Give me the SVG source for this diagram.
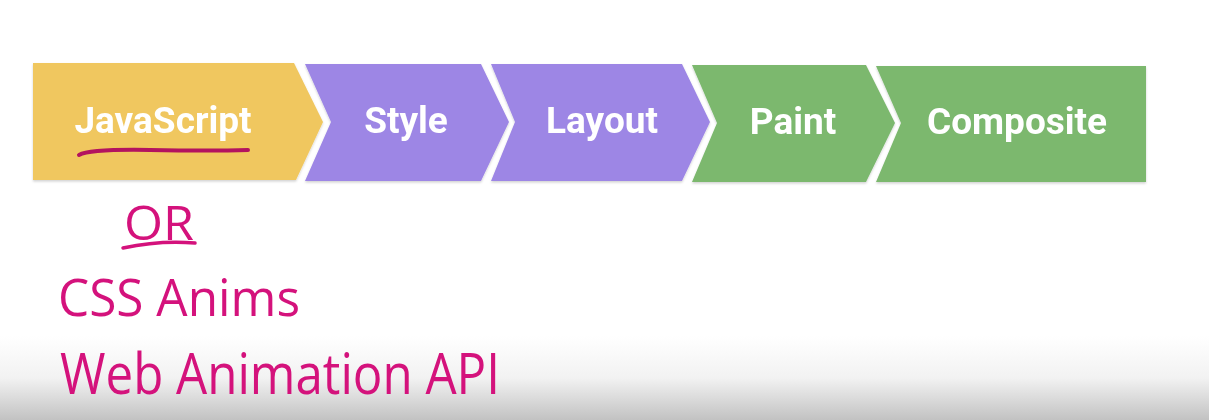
<svg xmlns="http://www.w3.org/2000/svg" width="1209" height="420" viewBox="0 0 1209 420">
<defs>
<linearGradient id="bg" x1="0" y1="0" x2="0" y2="1">
<stop offset="0" stop-color="#ffffff"/>
<stop offset="0.8" stop-color="#ffffff"/>
<stop offset="0.9" stop-color="#f2f2f2"/>
<stop offset="1" stop-color="#c2c2c2"/>
</linearGradient>
<filter id="sh" x="-5%" y="-5%" width="110%" height="120%">
<feDropShadow dx="0" dy="1.5" stdDeviation="1.2" flood-color="#000" flood-opacity="0.18"/>
</filter>
</defs>
<style>
.lbl{font-family:Roboto,"Liberation Sans",sans-serif;font-weight:bold;font-size:37px;fill:#ffffff;text-anchor:middle}
.hand{font-family:"Open Sans","DejaVu Sans",sans-serif;fill:#d4127c}
.js{fill:#f0c75e}
.pu{fill:#9d86e5}
.gr{fill:#7bb86e}
.ink{fill:none;stroke:#d4127c;stroke-width:3.5;stroke-linecap:round}
</style>
<rect width="1209" height="420" fill="url(#bg)"/>
<g id="javascript" filter="url(#sh)">
<path class="js" d="M33,63 L294,63 L323,122 L296,180 L33,180 Z"/>
<text class="lbl" x="163" y="133">JavaScript</text>
</g>
<g id="style" filter="url(#sh)">
<path class="pu" d="M305,64 L481,64 L509,122 L481,181 L305,181 L331,122 Z"/>
<text class="lbl" x="406" y="133">Style</text>
</g>
<g id="layout" filter="url(#sh)">
<path class="pu" d="M491,64 L682,64 L710,122 L682,181 L491,181 L515,122 Z"/>
<text class="lbl" x="602" y="133">Layout</text>
</g>
<g id="paint" filter="url(#sh)">
<path class="gr" d="M692,65 L866,65 L895,123 L866,182 L692,182 L717,123 Z"/>
<text class="lbl" x="793" y="134">Paint</text>
</g>
<g id="composite" filter="url(#sh)">
<path class="gr" d="M876,66 L1146,66 L1146,182 L876,182 L901,123 Z"/>
<text class="lbl" x="1017" y="134">Composite</text>
</g>
<g id="annotations">
<path d="M79,155 Q90,149 150,150 Q210,151 248,150" fill="none" stroke="#b3135f" stroke-width="4" stroke-linecap="round"/>
<text class="hand" x="124" y="240" font-size="48" textLength="70" lengthAdjust="spacingAndGlyphs">OR</text>
<path class="ink" d="M123,248 Q160,240 195,243"/>
<text class="hand" x="58" y="316" font-size="52" textLength="242" lengthAdjust="spacingAndGlyphs">CSS Anims</text>
<text class="hand" x="60" y="394" font-size="56" textLength="440" lengthAdjust="spacingAndGlyphs">Web Animation API</text>
</g>
</svg>
